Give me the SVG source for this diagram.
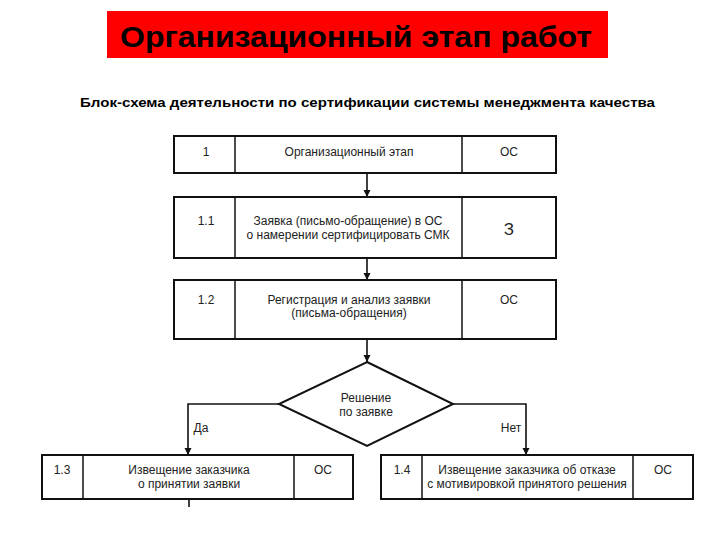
<svg xmlns="http://www.w3.org/2000/svg" width="720" height="540" viewBox="0 0 720 540">
<defs>
<marker id="ah" viewBox="0 0 10 10" refX="10" refY="5" markerWidth="7" markerHeight="8" markerUnits="userSpaceOnUse" orient="auto"><path d="M0,0 L10,5 L0,10 z" fill="#111"/></marker>
</defs>
<style>
.box{fill:#fff;stroke:#111;stroke-width:2}
.ln{stroke:#111;stroke-width:1.5;fill:none}
.t{font-family:"Liberation Sans",Arial,sans-serif;font-size:12px;fill:#222;text-anchor:middle}
.big{font-size:17px}
.c{stroke:#111;stroke-width:1.6;fill:none}
</style>
<rect width="720" height="540" fill="#fff"/>
<g id="title">
<rect x="107" y="11" width="501" height="47" fill="#ff0000"/>
<text x="356" y="46.5" font-family="Liberation Sans,Arial,sans-serif" font-weight="bold" font-size="29" text-anchor="middle" textLength="472" lengthAdjust="spacingAndGlyphs" fill="#000">Организационный этап работ</text>
</g>
<g id="subtitle">
<text x="80" y="107" font-family="Liberation Sans,Arial,sans-serif" font-weight="bold" font-size="12" textLength="575" lengthAdjust="spacingAndGlyphs" fill="#000">Блок-схема деятельности по сертификации системы менеджмента качества</text>
</g>
<g id="connectors">
<line class="c" x1="367" y1="173" x2="367" y2="197" marker-end="url(#ah)"/>
<line class="c" x1="367" y1="258" x2="367" y2="280" marker-end="url(#ah)"/>
<line class="c" x1="367" y1="339" x2="367" y2="362" marker-end="url(#ah)"/>
<polyline class="c" points="279,404 188,404 188,455" marker-end="url(#ah)"/>
<polyline class="c" points="453,404 526,404 526,455" marker-end="url(#ah)"/>
<line class="c" x1="189" y1="499" x2="189" y2="507"/>
<text class="t" x="201" y="432">Да</text>
<text class="t" x="511" y="432">Нет</text>
</g>
<g id="n1">
<rect class="box" x="174" y="136" width="382" height="37"/>
<line class="ln" x1="235" y1="136" x2="235" y2="173"/>
<line class="ln" x1="462" y1="136" x2="462" y2="173"/>
<text class="t" x="206" y="156">1</text>
<text class="t" x="349" y="156">Организационный этап</text>
<text class="t" x="509" y="156">ОС</text>
</g>
<g id="n1_1">
<rect class="box" x="174" y="197" width="382" height="61"/>
<line class="ln" x1="235" y1="197" x2="235" y2="258"/>
<line class="ln" x1="462" y1="197" x2="462" y2="258"/>
<text class="t" x="206" y="225">1.1</text>
<text class="t" x="348" y="225">Заявка (письмо-обращение) в ОС</text>
<text class="t" x="348" y="239">о намерении сертифицировать СМК</text>
<text class="t big" x="509" y="235">З</text>
</g>
<g id="n1_2">
<rect class="box" x="174" y="280" width="382" height="59"/>
<line class="ln" x1="235" y1="280" x2="235" y2="339"/>
<line class="ln" x1="462" y1="280" x2="462" y2="339"/>
<text class="t" x="206" y="304">1.2</text>
<text class="t" x="349" y="304">Регистрация и анализ заявки</text>
<text class="t" x="349" y="317">(письма-обращения)</text>
<text class="t" x="509" y="304">ОС</text>
</g>
<g id="decision">
<polygon class="box" points="367,362 453,404 367,446 279,404"/>
<text class="t" x="366" y="402">Решение</text>
<text class="t" x="366" y="416">по заявке</text>
</g>
<g id="n1_3">
<rect class="box" x="42" y="455" width="311" height="44"/>
<line class="ln" x1="83" y1="455" x2="83" y2="499"/>
<line class="ln" x1="294" y1="455" x2="294" y2="499"/>
<text class="t" x="62" y="474">1.3</text>
<text class="t" x="189" y="474">Извещение заказчика</text>
<text class="t" x="189" y="488">о принятии заявки</text>
<text class="t" x="323" y="474">ОС</text>
</g>
<g id="n1_4">
<rect class="box" x="381" y="455" width="312" height="44"/>
<line class="ln" x1="422" y1="455" x2="422" y2="499"/>
<line class="ln" x1="633" y1="455" x2="633" y2="499"/>
<text class="t" x="402" y="474">1.4</text>
<text class="t" x="527" y="474">Извещение заказчика об отказе</text>
<text class="t" x="527" y="488">с мотивировкой принятого решения</text>
<text class="t" x="663" y="474">ОС</text>
</g>
</svg>
